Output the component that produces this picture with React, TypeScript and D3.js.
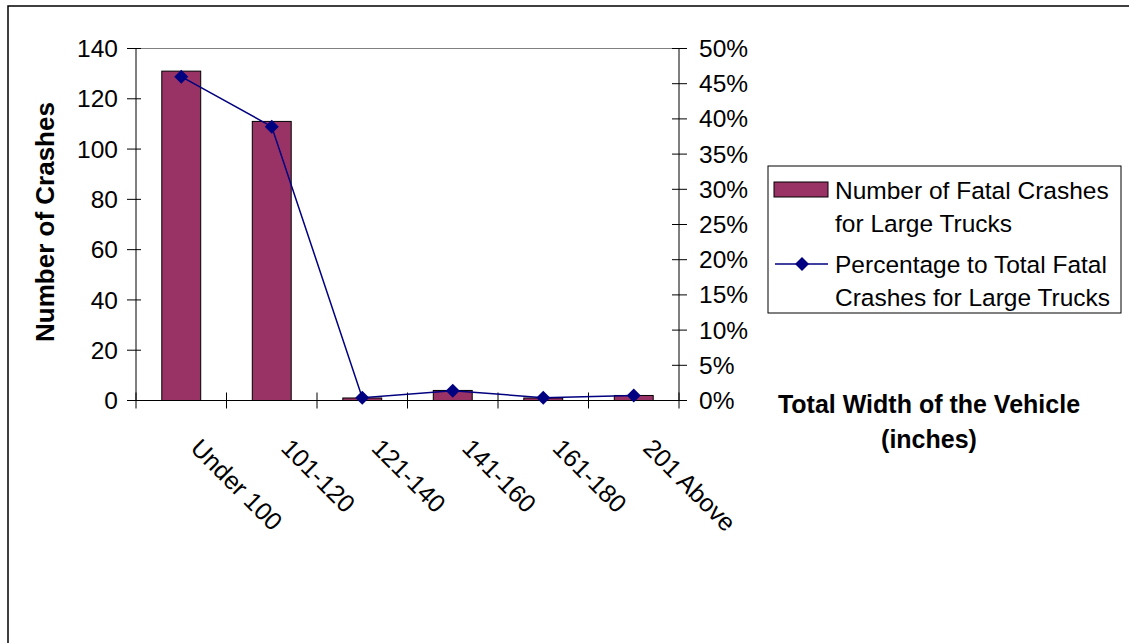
import React from "react";
import * as d3 from "d3";

const categories = ["Under 100", "101-120", "121-140", "141-160", "161-180", "201 Above"];
const crashes = [131, 111, 1, 4, 1, 2];
const percentages = [46.0, 38.9, 0.4, 1.4, 0.4, 0.7];
const leftTicks = [0, 20, 40, 60, 80, 100, 120, 140];
const rightTicks = [0, 5, 10, 15, 20, 25, 30, 35, 40, 45, 50];
const seriesNames = ["Number of Fatal Crashes|for Large Trucks", "Percentage to Total Fatal|Crashes for Large Trucks"];
const yTitle = "Number of Crashes";
const xTitle = ["Total Width of the Vehicle", "(inches)"];

const W = 1129, H = 643;
const L = 136, R = 679, T = 48.5, B = 400.5;
const FONT = "'Liberation Sans', Arial, sans-serif";
const BAR = "#993366";
const LINE = "#000080";
const FS = 24.5;

export default function App() {
  const x = d3.scaleBand<string>().domain(categories).range([L, R]).paddingInner(0).paddingOuter(0);
  const yL = d3.scaleLinear().domain([0, 140]).range([B, T]);
  const yR = d3.scaleLinear().domain([0, 50]).range([B, T]);
  const bw = x.bandwidth() * 0.43;
  const cx = (c: string) => (x(c) as number) + x.bandwidth() / 2;
  const line = d3.line<number>().x((_, i) => cx(categories[i])).y((d) => yR(d));
  const diamond = (px: number, py: number, r: number) =>
    `M${px},${py - r}L${px + r},${py}L${px},${py + r}L${px - r},${py}Z`;
  const catTicks = d3.range(categories.length + 1).map((i) => L + i * x.bandwidth());

  return (
    <svg width={W} height={H} style={{ position: "absolute", left: 0, top: 0, background: "#fff" }} fontFamily={FONT}>
      <rect x={8} y={6} width={W + 10} height={H + 10} fill="#fff" stroke="#000" strokeWidth={1.5} />
      <line x1={L} x2={R} y1={T} y2={T} stroke="#808080" strokeWidth={1} />
      {crashes.map((v, i) => (
        <rect key={i} x={cx(categories[i]) - bw / 2} y={yL(v)} width={bw} height={B - yL(v)} fill={BAR} stroke="#000" strokeWidth={1} />
      ))}
      <line x1={L} x2={L} y1={T} y2={B} stroke="#000" strokeWidth={1} />
      {leftTicks.map((t) => (
        <g key={t}>
          <line x1={L - 9} x2={L + 5} y1={yL(t)} y2={yL(t)} stroke="#000" strokeWidth={1} />
          <text x={118} y={yL(t)} dy="0.35em" textAnchor="end" fontSize={FS}>{t}</text>
        </g>
      ))}
      <line x1={R} x2={R} y1={T} y2={B} stroke="#000" strokeWidth={1} />
      {rightTicks.map((t) => (
        <g key={t}>
          <line x1={R - 7} x2={R + 8} y1={yR(t)} y2={yR(t)} stroke="#000" strokeWidth={1} />
          <text x={699} y={yR(t)} dy="0.35em" textAnchor="start" fontSize={FS}>{t}%</text>
        </g>
      ))}
      <line x1={L - 9} x2={R + 8} y1={B} y2={B} stroke="#000" strokeWidth={1} />
      {catTicks.map((t, i) => (
        <line key={i} x1={t} x2={t} y1={B - 8} y2={B + 8} stroke="#000" strokeWidth={1} />
      ))}
      {categories.map((c) => (
        <text key={c} transform={`translate(${cx(c) + 8},${B + 49}) rotate(45)`} fontSize={25} textAnchor="start">{c}</text>
      ))}
      <path d={line(percentages) as string} fill="none" stroke={LINE} strokeWidth={1.5} />
      {percentages.map((p, i) => (
        <path key={i} d={diamond(cx(categories[i]), yR(p), 7)} fill={LINE} />
      ))}
      <text transform={`translate(54,222) rotate(-90)`} textAnchor="middle" fontSize={26} fontWeight="bold">{yTitle}</text>
      {xTitle.map((s, i) => (
        <text key={i} x={929} y={413 + i * 35} textAnchor="middle" fontSize={25} fontWeight="bold">{s}</text>
      ))}
      <rect x={768} y={166} width={353} height={147} fill="#fff" stroke="#000" strokeWidth={1} />
      <rect x={774} y={182} width={54} height={15} fill={BAR} stroke="#000" strokeWidth={1} />
      <line x1={775} x2={828} y1={264} y2={264} stroke={LINE} strokeWidth={1.5} />
      <path d={diamond(802, 264, 7)} fill={LINE} />
      {seriesNames.map((n, i) =>
        n.split("|").map((s, j) => (
          <text key={`${i}-${j}`} x={835} y={190 + i * 74 + j * 33} dy="0.35em" fontSize={FS}>{s}</text>
        ))
      )}
    </svg>
  );
}
